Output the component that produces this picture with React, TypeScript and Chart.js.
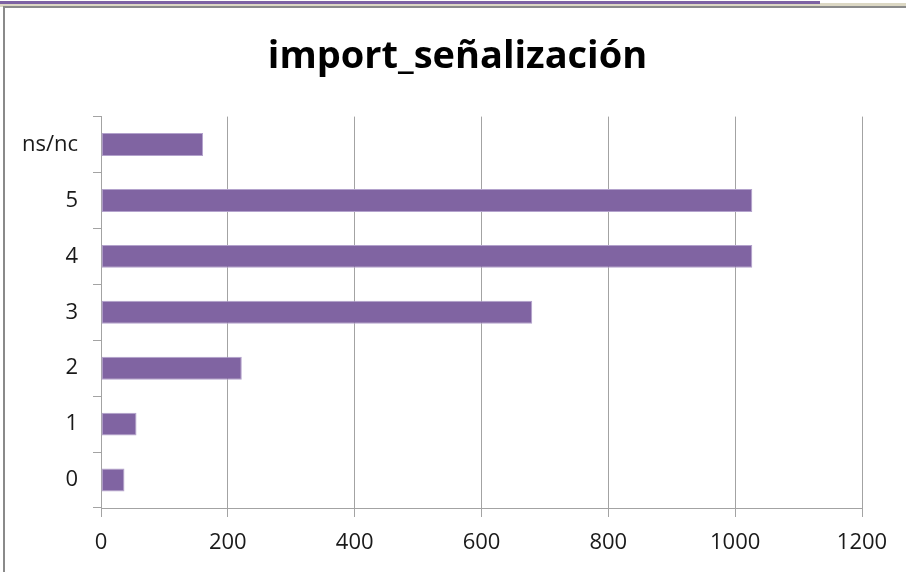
import React, { useEffect, useRef } from "react";
import { Chart, registerables } from "chart.js";

Chart.register(...registerables);

// Response counts for "import_señalización"
const categories: string[] = ["0", "1", "2", "3", "4", "5", "ns/nc"];
const counts: number[] = [37, 56, 222, 680, 1027, 1027, 161];
const xTicks: number[] = [0, 200, 400, 600, 800, 1000, 1200];

const TITLE = "import_señalización";
const FONT = "'Open Sans', 'DejaVu Sans', sans-serif";
const BAR = "#8064a2";
const BAR_EDGE = "#b3a2cc";
const GRID = "#a3a3a3";

// Centre the title over a span that starts a little left of the plot area.
const titleSpan = {
  id: "titleSpan",
  afterLayout(chart: any) {
    const t = chart.titleBlock;
    if (t) {
      t.left = 53;
      t.right = chart.chartArea.right;
    }
  },
};

export default function App() {
  const canvasRef = useRef<HTMLCanvasElement | null>(null);

  useEffect(() => {
    const canvas = canvasRef.current;
    if (!canvas) return;
    const chart = new Chart(canvas, {
      type: "bar",
      data: {
        labels: categories,
        datasets: [
          {
            data: counts,
            backgroundColor: BAR,
            borderColor: BAR_EDGE,
            borderWidth: 1,
            borderSkipped: false,
            categoryPercentage: 1,
            barPercentage: 0.41,
          },
        ],
      },
      plugins: [titleSpan],
      options: {
        indexAxis: "y",
        responsive: false,
        animation: false,
        events: [],
        layout: { padding: { left: 0, right: 44, top: 0, bottom: 0 } },
        plugins: {
          legend: { display: false },
          tooltip: { enabled: false },
          title: {
            display: true,
            text: TITLE,
            color: "#000000",
            font: { family: FONT, size: 38, weight: "bold", lineHeight: 1.2 },
            padding: { top: 34, bottom: 37 },
          },
        },
        scales: {
          x: {
            type: "linear",
            min: 0,
            max: 1200,
            afterBuildTicks: (scale: any) => {
              scale.ticks = xTicks.map((v) => ({ value: v }));
            },
            afterFit: (scale: any) => {
              scale.height = 64;
            },
            border: { display: true, color: GRID, width: 1 },
            grid: {
              display: true,
              drawOnChartArea: true,
              drawTicks: true,
              tickLength: 9,
              color: GRID,
              lineWidth: 1,
            },
            ticks: {
              color: "#1a1a1a",
              padding: 13,
              maxRotation: 0,
              font: { family: FONT, size: 22 },
              callback: (value: any) => String(value),
            },
          },
          y: {
            type: "category",
            reverse: true,
            afterFit: (scale: any) => {
              scale.width = 101;
            },
            border: { display: true, color: GRID, width: 1 },
            grid: {
              display: true,
              drawOnChartArea: false,
              drawTicks: true,
              tickLength: 8,
              offset: true,
              color: GRID,
              lineWidth: 1,
            },
            ticks: {
              color: "#1a1a1a",
              padding: 15,
              font: { family: FONT, size: 22 },
            },
          },
        },
      },
    });
    return () => chart.destroy();
  }, []);

  return (
    <div
      style={{
        position: "fixed",
        left: 0,
        top: 0,
        width: 906,
        height: 572,
        background: "#ffffff",
        overflow: "hidden",
      }}
    >
      {/* window chrome above the chart sheet */}
      <div style={{ position: "absolute", left: 0, top: 3, width: 906, height: 4, background: "#dcd8c4" }} />
      <div style={{ position: "absolute", left: 0, top: 1, width: 820, height: 3, background: "#7d62a3" }} />
      <div style={{ position: "absolute", left: 3, top: 6, width: 903, height: 2, background: "#8a8a8a" }} />
      <div style={{ position: "absolute", left: 3, top: 6, width: 2, height: 566, background: "#8a8a8a" }} />
      <canvas
        ref={canvasRef}
        width={906}
        height={572}
        style={{ position: "absolute", left: 0, top: 0, width: 906, height: 572 }}
      />
    </div>
  );
}
